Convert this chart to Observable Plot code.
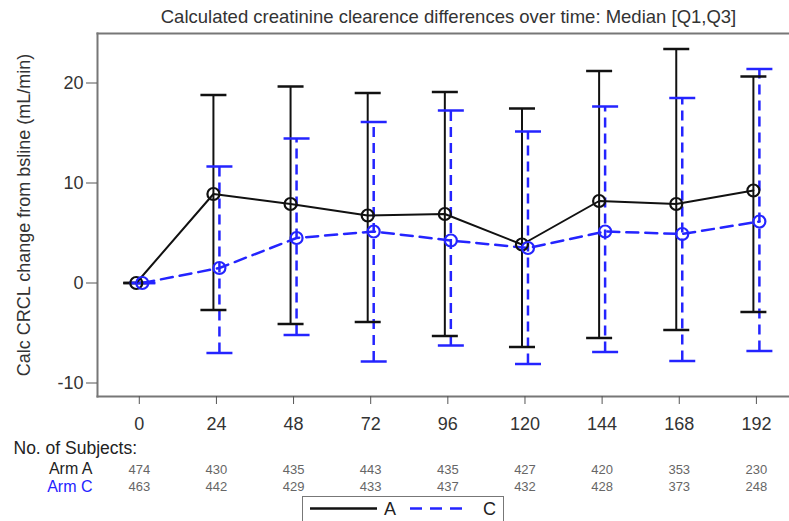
<!DOCTYPE html>
<html>
<head>
<meta charset="utf-8">
<script src="https://cdn.jsdelivr.net/npm/d3@7"></script>
<script src="https://cdn.jsdelivr.net/npm/@observablehq/plot@0.6"></script>
<style>
  html, body { margin: 0; padding: 0; background: #fff; }
  #wrap { position: relative; width: 789px; height: 521px; overflow: hidden; }
  #legend { position: absolute; left: 302px; top: 496px; width: 202px; height: 30px;
            border: 1.5px solid #777; background: #fff; box-sizing: border-box; }
</style>
</head>
<body>
<div id="wrap"></div>
<script>
// ---- data ----
const times   = [0, 24, 48, 72, 96, 120, 144, 168, 192];
const medianA = [0, 8.9, 7.9, 6.75, 6.9, 3.85, 8.2, 7.9, 9.25];
const q1A     = [0, -2.7, -4.1, -3.9, -5.3, -6.4, -5.5, -4.7, -2.9];
const q3A     = [0, 18.8, 19.65, 19.0, 19.1, 17.45, 21.2, 23.4, 20.65];
const medianC = [0, 1.5, 4.5, 5.15, 4.25, 3.5, 5.15, 4.9, 6.15];
const q1C     = [0, -7.0, -5.2, -7.85, -6.25, -8.1, -6.9, -7.8, -6.8];
const q3C     = [0, 11.65, 14.45, 16.1, 17.25, 15.15, 17.65, 18.5, 21.4];
const nA      = [474, 430, 435, 443, 435, 427, 420, 353, 230];
const nC      = [463, 442, 429, 433, 437, 432, 428, 373, 248];
const yTicks  = [-10, 0, 10, 20];
const armLabels = ["Arm A", "Arm C"];
const seriesNames = ["A", "C"];
const titleText = "Calculated creatinine clearence differences over time: Median [Q1,Q3]";
const yLabel = "Calc CRCL change from bsline (mL/min)";

const colA = "#111111";
const colC = "#2424ff";

const rowsA = times.map((t, i) => ({t, m: medianA[i], lo: q1A[i], hi: q3A[i], n: nA[i]}));
const rowsC = times.map((t, i) => ({t, m: medianC[i], lo: q1C[i], hi: q3C[i], n: nC[i]}));

const capSymbol = { draw(ctx) { ctx.moveTo(-13, 0); ctx.lineTo(13, 0); } };
const font = "'Liberation Sans', Arial, sans-serif";

const chart = Plot.plot({
  width: 789,
  height: 521,
  marginTop: 33,
  marginLeft: 97,
  marginRight: 0,
  marginBottom: 125,
  style: { fontFamily: font, background: "white", color: "#333", overflow: "visible" },
  x: { domain: [-13, 202.3] },
  y: { domain: [-11.35, 24.95] },
  marks: [
    Plot.frame({ anchor: "left", stroke: "#777", strokeWidth: 2 }),
    Plot.frame({ anchor: "top", stroke: "#777", strokeWidth: 2 }),
    Plot.frame({ anchor: "bottom", stroke: "#777", strokeWidth: 2 }),
    Plot.axisX({ ticks: times, tickSize: 8, tickPadding: 13, fontSize: 18, stroke: "#555", fill: "#333", label: null,
                 tickFormat: d => String(d) }),
    Plot.axisY({ ticks: yTicks, tickSize: 11, tickPadding: 3, fontSize: 18, stroke: "#555", fill: "#333",
                 tickFormat: d => String(d),
                 label: yLabel, labelAnchor: "center", labelArrow: "none", labelOffset: 80 }),
    // error bars
    Plot.ruleX(rowsA, { x: "t", y1: "lo", y2: "hi", dx: -3, stroke: colA, strokeWidth: 2 }),
    Plot.ruleX(rowsC, { x: "t", y1: "lo", y2: "hi", dx: 3, stroke: colC, strokeWidth: 2.5, strokeDasharray: "10,6" }),
    Plot.dot(rowsA, { x: "t", y: "lo", dx: -3, symbol: capSymbol, stroke: colA, strokeWidth: 2.5, fill: "none" }),
    Plot.dot(rowsA, { x: "t", y: "hi", dx: -3, symbol: capSymbol, stroke: colA, strokeWidth: 2.5, fill: "none" }),
    Plot.dot(rowsC, { x: "t", y: "lo", dx: 3, symbol: capSymbol, stroke: colC, strokeWidth: 2.5, fill: "none" }),
    Plot.dot(rowsC, { x: "t", y: "hi", dx: 3, symbol: capSymbol, stroke: colC, strokeWidth: 2.5, fill: "none" }),
    // median lines
    Plot.line(rowsA, { x: "t", y: "m", dx: -3, stroke: colA, strokeWidth: 2 }),
    Plot.line(rowsC, { x: "t", y: "m", dx: 3, stroke: colC, strokeWidth: 2.5, strokeDasharray: "12,7" }),
    Plot.dot(rowsA, { x: "t", y: "m", dx: -3, r: 6, stroke: colA, strokeWidth: 2.2, fill: "none" }),
    Plot.dot(rowsC, { x: "t", y: "m", dx: 3, r: 6, stroke: colC, strokeWidth: 2.2, fill: "none" }),
    // title
    Plot.text([titleText], { text: d => d, frameAnchor: "top", dx: 5, dy: -16, fontSize: 18.5, fill: "#333", lineAnchor: "middle" }),
    // subjects table
    Plot.text(["No. of Subjects:"], { text: d => d, frameAnchor: "bottom-left", dx: -84, dy: 52, textAnchor: "start", fontSize: 17.5, fill: "#222", lineAnchor: "middle" }),
    Plot.text([armLabels[0]], { text: d => d, frameAnchor: "bottom-left", dx: -5, dy: 72, textAnchor: "end", fontSize: 16, fill: "#222", lineAnchor: "middle" }),
    Plot.text([armLabels[1]], { text: d => d, frameAnchor: "bottom-left", dx: -5, dy: 90.5, textAnchor: "end", fontSize: 16, fill: colC, lineAnchor: "middle" }),
    Plot.text(rowsA, { x: "t", text: d => String(d.n), frameAnchor: "bottom", dy: 73.5, fontSize: 13, fill: "#666", lineAnchor: "middle" }),
    Plot.text(rowsC, { x: "t", text: d => String(d.n), frameAnchor: "bottom", dy: 90.5, fontSize: 13, fill: "#666", lineAnchor: "middle" })
  ]
});

const wrap = document.getElementById("wrap");
wrap.appendChild(chart);

// legend
const legend = document.createElement("div");
legend.id = "legend";
legend.innerHTML = `<svg width="202" height="30" style="display:block;font-family:${font}">
  <line x1="7" x2="74" y1="11.5" y2="11.5" stroke="${colA}" stroke-width="2.5"/>
  <text x="81" y="11.5" dy="0.35em" font-size="18" fill="#222">${seriesNames[0]}</text>
  <line x1="107" x2="163" y1="11.5" y2="11.5" stroke="${colC}" stroke-width="2.5" stroke-dasharray="12,8"/>
  <text x="180" y="11.5" dy="0.35em" font-size="18" fill="#222">${seriesNames[1]}</text>
</svg>`;
wrap.appendChild(legend);
</script>
</body>
</html>
